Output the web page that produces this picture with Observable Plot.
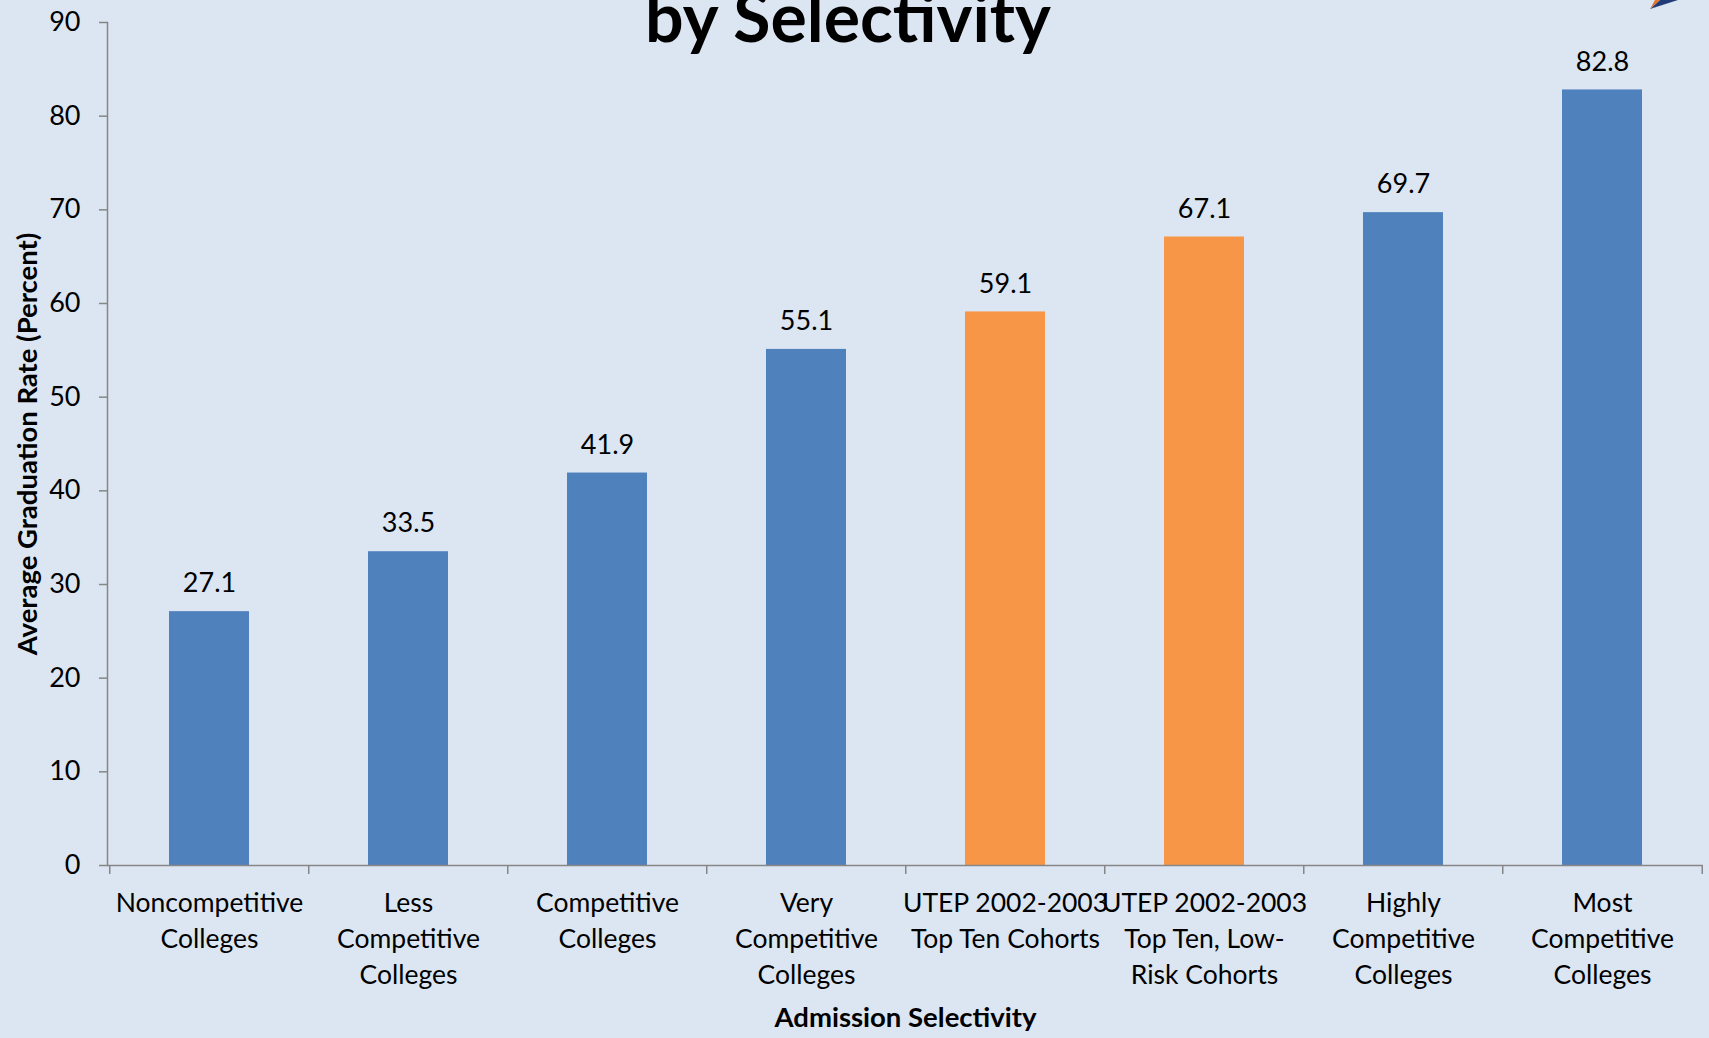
<!DOCTYPE html>
<html>
<head>
<meta charset="utf-8">
<script src="https://cdn.jsdelivr.net/npm/d3@7"></script>
<script src="https://cdn.jsdelivr.net/npm/@observablehq/plot@0.6"></script>
<style>
html, body { margin: 0; padding: 0; background: #dce6f2; overflow: hidden; }
#wrap { position: relative; width: 1709px; height: 1038px; }
#title { position: absolute; left: 0; width: 1696px; top: -18px; text-align: center;
  font-family: Lato, "Open Sans", sans-serif; font-weight: 700; font-size: 68px; line-height: 1;
  color: #000; white-space: nowrap; }
#logo { position: absolute; left: 1640px; top: 0; width: 50px; height: 14px; }
</style>
</head>
<body>
<div id="wrap">
  <div id="chart"></div>
  <div id="title">by Selectivity</div>
  <svg id="logo" viewBox="0 0 50 14">
    <polygon points="38,0 10,9 20,0" fill="#1f3b7a"/>
    <polygon points="20,0 10,9 15,0" fill="#e8742a"/>
    <polygon points="38,0 10,9 12,8" fill="#9aa3ad" opacity="0.6"/>
  </svg>
</div>
<script>
const categories = [
  "Noncompetitive\nColleges",
  "Less\nCompetitive\nColleges",
  "Competitive\nColleges",
  "Very\nCompetitive\nColleges",
  "UTEP 2002-2003\nTop Ten Cohorts",
  "UTEP 2002-2003\nTop Ten, Low-\nRisk Cohorts",
  "Highly\nCompetitive\nColleges",
  "Most\nCompetitive\nColleges"
];
const values = [27.1, 33.5, 41.9, 55.1, 59.1, 67.1, 69.7, 82.8];
const groups = ["National", "National", "National", "National", "UTEP", "UTEP", "National", "National"];
const yTicks = [0, 10, 20, 30, 40, 50, 60, 70, 80, 90];
const xTitle = "Admission Selectivity";
const yTitle = "Average Graduation Rate (Percent)";

const W = 1709, H = 1038, ML = 107, MR = 6, MT = 22, MB = 173;
const step = (W - ML - MR) / categories.length;
const axisGray = "#868686";
const data = categories.map((c, i) => ({category: c, value: values[i], group: groups[i]}));

const chart = Plot.plot({
  width: W, height: H,
  marginLeft: ML, marginRight: MR, marginTop: MT, marginBottom: MB,
  style: {background: "#dce6f2", fontFamily: "Lato, 'Open Sans', sans-serif", fontSize: "27px", color: "#000"},
  x: {domain: categories, paddingInner: 0.6, paddingOuter: 0.3, axis: null},
  y: {domain: [0, 90], axis: null},
  color: {domain: ["National", "UTEP"], range: ["#4f81bd", "#f79646"]},
  marks: [
    Plot.barY(data, {x: "category", y: "value", fill: "group"}),
    Plot.frame({anchor: "left", stroke: axisGray, strokeWidth: 1.5}),
    Plot.ruleY([0], {stroke: axisGray, strokeWidth: 1.5}),
    Plot.axisY({ticks: yTicks, tickSize: 8, tickFormat: () => "", color: axisGray, strokeWidth: 1.5, label: null}),
    Plot.axisY({ticks: yTicks, tickSize: 0, tickPadding: 27, color: "#000", fontSize: 27, label: null}),
    Plot.ruleX(categories, {x: d => d, y1: 0, y2: -0.96, dx: -step / 2, stroke: axisGray, strokeWidth: 1.5, clip: false}),
    Plot.ruleX(categories.slice(-1), {x: d => d, y1: 0, y2: -0.96, dx: step / 2, stroke: axisGray, strokeWidth: 1.5, clip: false}),
    Plot.text(data, {x: "category", y: "value", text: d => d.value.toFixed(1), dy: -28, fontSize: 27, fill: "#000"}),
    Plot.text(data, {x: "category", text: "category", frameAnchor: "bottom", lineAnchor: "top", lineHeight: 1.36, dy: 21, fontSize: 26.5, fill: "#000"}),
    Plot.text([xTitle], {text: d => d, frameAnchor: "bottom", textAnchor: "middle", lineAnchor: "middle", dy: 153, fontSize: 27.5, fontWeight: "bold", fill: "#000"}),
    Plot.text([yTitle], {text: d => d, frameAnchor: "left", textAnchor: "middle", lineAnchor: "middle", dx: -79, rotate: -90, fontSize: 27.5, fontWeight: "bold", fill: "#000"})
  ]
});
document.getElementById("chart").appendChild(chart);
</script>
</body>
</html>
